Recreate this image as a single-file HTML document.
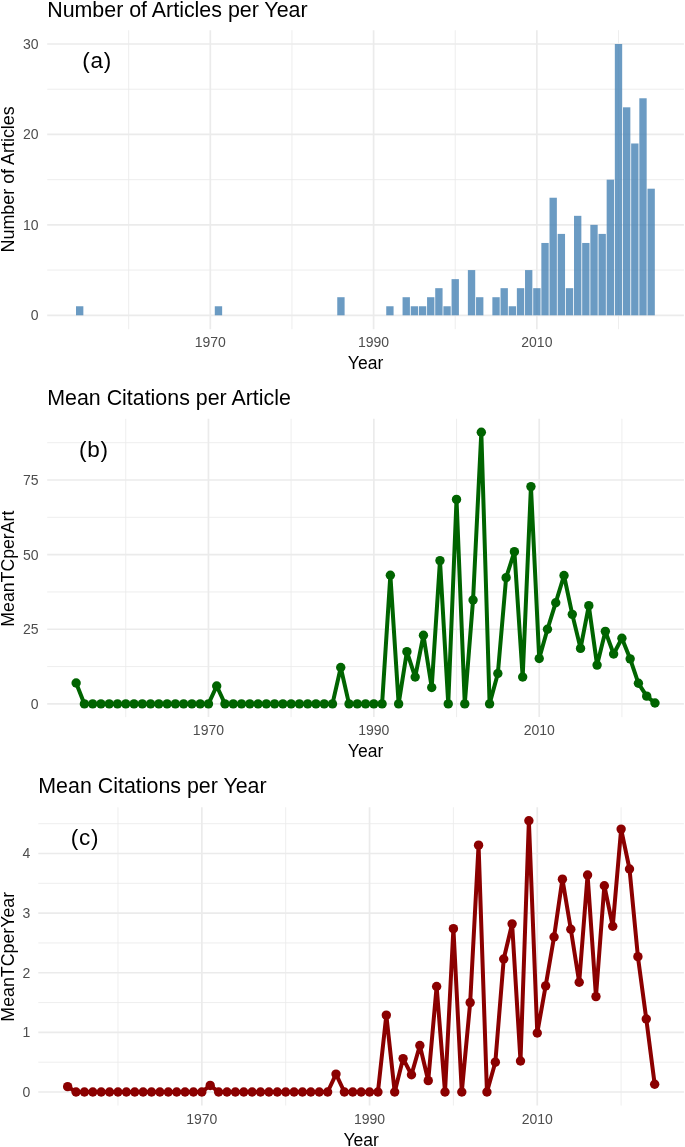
<!DOCTYPE html>
<html><head><meta charset="utf-8"><title>Figure</title>
<style>html,body{margin:0;padding:0;background:#fff}svg{display:block}text{font-family:"Liberation Sans",Arial,Helvetica,sans-serif}</style>
</head><body>
<svg width="685" height="1147" viewBox="0 0 685 1147">
<rect width="685" height="1147" fill="#fff"/>
<line x1="47.2" x2="683.9" y1="270.09" y2="270.09" stroke="#ebebeb" stroke-width="0.85"/>
<line x1="47.2" x2="683.9" y1="179.66" y2="179.66" stroke="#ebebeb" stroke-width="0.85"/>
<line x1="47.2" x2="683.9" y1="89.23" y2="89.23" stroke="#ebebeb" stroke-width="0.85"/>
<line y1="30.2" y2="329.2" x1="128.66" x2="128.66" stroke="#ebebeb" stroke-width="0.85"/>
<line y1="30.2" y2="329.2" x1="291.94" x2="291.94" stroke="#ebebeb" stroke-width="0.85"/>
<line y1="30.2" y2="329.2" x1="455.22" x2="455.22" stroke="#ebebeb" stroke-width="0.85"/>
<line y1="30.2" y2="329.2" x1="618.5" x2="618.5" stroke="#ebebeb" stroke-width="0.85"/>
<line x1="47.2" x2="683.9" y1="315.3" y2="315.3" stroke="#ebebeb" stroke-width="1.7"/>
<line x1="47.2" x2="683.9" y1="224.87" y2="224.87" stroke="#ebebeb" stroke-width="1.7"/>
<line x1="47.2" x2="683.9" y1="134.44" y2="134.44" stroke="#ebebeb" stroke-width="1.7"/>
<line x1="47.2" x2="683.9" y1="44.01" y2="44.01" stroke="#ebebeb" stroke-width="1.7"/>
<line y1="30.2" y2="329.2" x1="210.3" x2="210.3" stroke="#ebebeb" stroke-width="1.7"/>
<line y1="30.2" y2="329.2" x1="373.58" x2="373.58" stroke="#ebebeb" stroke-width="1.7"/>
<line y1="30.2" y2="329.2" x1="536.86" x2="536.86" stroke="#ebebeb" stroke-width="1.7"/>
<rect x="76" y="306.26" width="7.35" height="9.04" fill="#4682b4" fill-opacity="0.8"/>
<rect x="214.79" y="306.26" width="7.35" height="9.04" fill="#4682b4" fill-opacity="0.8"/>
<rect x="337.25" y="297.21" width="7.35" height="18.09" fill="#4682b4" fill-opacity="0.8"/>
<rect x="386.23" y="306.26" width="7.35" height="9.04" fill="#4682b4" fill-opacity="0.8"/>
<rect x="402.56" y="297.21" width="7.35" height="18.09" fill="#4682b4" fill-opacity="0.8"/>
<rect x="410.73" y="306.26" width="7.35" height="9.04" fill="#4682b4" fill-opacity="0.8"/>
<rect x="418.89" y="306.26" width="7.35" height="9.04" fill="#4682b4" fill-opacity="0.8"/>
<rect x="427.05" y="297.21" width="7.35" height="18.09" fill="#4682b4" fill-opacity="0.8"/>
<rect x="435.22" y="288.17" width="7.35" height="27.13" fill="#4682b4" fill-opacity="0.8"/>
<rect x="443.38" y="306.26" width="7.35" height="9.04" fill="#4682b4" fill-opacity="0.8"/>
<rect x="451.55" y="279.13" width="7.35" height="36.17" fill="#4682b4" fill-opacity="0.8"/>
<rect x="467.87" y="270.09" width="7.35" height="45.21" fill="#4682b4" fill-opacity="0.8"/>
<rect x="476.04" y="297.21" width="7.35" height="18.09" fill="#4682b4" fill-opacity="0.8"/>
<rect x="492.37" y="297.21" width="7.35" height="18.09" fill="#4682b4" fill-opacity="0.8"/>
<rect x="500.53" y="288.17" width="7.35" height="27.13" fill="#4682b4" fill-opacity="0.8"/>
<rect x="508.69" y="306.26" width="7.35" height="9.04" fill="#4682b4" fill-opacity="0.8"/>
<rect x="516.86" y="288.17" width="7.35" height="27.13" fill="#4682b4" fill-opacity="0.8"/>
<rect x="525.02" y="270.09" width="7.35" height="45.21" fill="#4682b4" fill-opacity="0.8"/>
<rect x="533.19" y="288.17" width="7.35" height="27.13" fill="#4682b4" fill-opacity="0.8"/>
<rect x="541.35" y="242.96" width="7.35" height="72.34" fill="#4682b4" fill-opacity="0.8"/>
<rect x="549.51" y="197.74" width="7.35" height="117.56" fill="#4682b4" fill-opacity="0.8"/>
<rect x="557.68" y="233.91" width="7.35" height="81.39" fill="#4682b4" fill-opacity="0.8"/>
<rect x="565.84" y="288.17" width="7.35" height="27.13" fill="#4682b4" fill-opacity="0.8"/>
<rect x="574.01" y="215.83" width="7.35" height="99.47" fill="#4682b4" fill-opacity="0.8"/>
<rect x="582.17" y="242.96" width="7.35" height="72.34" fill="#4682b4" fill-opacity="0.8"/>
<rect x="590.33" y="224.87" width="7.35" height="90.43" fill="#4682b4" fill-opacity="0.8"/>
<rect x="598.5" y="233.91" width="7.35" height="81.39" fill="#4682b4" fill-opacity="0.8"/>
<rect x="606.66" y="179.66" width="7.35" height="135.64" fill="#4682b4" fill-opacity="0.8"/>
<rect x="614.83" y="44.01" width="7.35" height="271.29" fill="#4682b4" fill-opacity="0.8"/>
<rect x="622.99" y="107.31" width="7.35" height="207.99" fill="#4682b4" fill-opacity="0.8"/>
<rect x="631.15" y="143.48" width="7.35" height="171.82" fill="#4682b4" fill-opacity="0.8"/>
<rect x="639.32" y="98.27" width="7.35" height="217.03" fill="#4682b4" fill-opacity="0.8"/>
<rect x="647.48" y="188.7" width="7.35" height="126.6" fill="#4682b4" fill-opacity="0.8"/>
<text x="38.6" y="320.15" text-anchor="end" font-size="14" fill="#4d4d4d">0</text>
<text x="38.6" y="229.72" text-anchor="end" font-size="14" fill="#4d4d4d">10</text>
<text x="38.6" y="139.29" text-anchor="end" font-size="14" fill="#4d4d4d">20</text>
<text x="38.6" y="48.86" text-anchor="end" font-size="14" fill="#4d4d4d">30</text>
<text x="210.3" y="346.7" text-anchor="middle" font-size="14" fill="#4d4d4d">1970</text>
<text x="373.58" y="346.7" text-anchor="middle" font-size="14" fill="#4d4d4d">1990</text>
<text x="536.86" y="346.7" text-anchor="middle" font-size="14" fill="#4d4d4d">2010</text>
<text x="365.55" y="368.9" text-anchor="middle" font-size="17.5" fill="#000">Year</text>
<text transform="translate(14 179.35) rotate(-90)" text-anchor="middle" font-size="17.9" fill="#000">Number of Articles</text>
<text x="47.2" y="16.8" font-size="21.4" fill="#000">Number of Articles per Year</text>
<text x="97.1" y="67.9" text-anchor="middle" font-size="22.5" letter-spacing="0.7" fill="#000">(a)</text>
<line x1="47.2" x2="683.9" y1="666.59" y2="666.59" stroke="#ebebeb" stroke-width="0.85"/>
<line x1="47.2" x2="683.9" y1="591.96" y2="591.96" stroke="#ebebeb" stroke-width="0.85"/>
<line x1="47.2" x2="683.9" y1="517.34" y2="517.34" stroke="#ebebeb" stroke-width="0.85"/>
<line x1="47.2" x2="683.9" y1="442.71" y2="442.71" stroke="#ebebeb" stroke-width="0.85"/>
<line y1="418.8" y2="717.1" x1="125.76" x2="125.76" stroke="#ebebeb" stroke-width="0.85"/>
<line y1="418.8" y2="717.1" x1="291.14" x2="291.14" stroke="#ebebeb" stroke-width="0.85"/>
<line y1="418.8" y2="717.1" x1="456.52" x2="456.52" stroke="#ebebeb" stroke-width="0.85"/>
<line y1="418.8" y2="717.1" x1="621.9" x2="621.9" stroke="#ebebeb" stroke-width="0.85"/>
<line x1="47.2" x2="683.9" y1="703.9" y2="703.9" stroke="#ebebeb" stroke-width="1.7"/>
<line x1="47.2" x2="683.9" y1="629.27" y2="629.27" stroke="#ebebeb" stroke-width="1.7"/>
<line x1="47.2" x2="683.9" y1="554.65" y2="554.65" stroke="#ebebeb" stroke-width="1.7"/>
<line x1="47.2" x2="683.9" y1="480.02" y2="480.02" stroke="#ebebeb" stroke-width="1.7"/>
<line y1="418.8" y2="717.1" x1="208.45" x2="208.45" stroke="#ebebeb" stroke-width="1.7"/>
<line y1="418.8" y2="717.1" x1="373.83" x2="373.83" stroke="#ebebeb" stroke-width="1.7"/>
<line y1="418.8" y2="717.1" x1="539.21" x2="539.21" stroke="#ebebeb" stroke-width="1.7"/>
<polyline fill="none" stroke="#006400" stroke-width="4.0" stroke-linejoin="round" stroke-linecap="butt" points="76.14,683 84.41,703.9 92.68,703.9 100.95,703.9 109.22,703.9 117.49,703.9 125.76,703.9 134.02,703.9 142.29,703.9 150.56,703.9 158.83,703.9 167.1,703.9 175.37,703.9 183.64,703.9 191.91,703.9 200.18,703.9 208.45,703.9 216.71,685.99 224.98,703.9 233.25,703.9 241.52,703.9 249.79,703.9 258.06,703.9 266.33,703.9 274.6,703.9 282.87,703.9 291.14,703.9 299.4,703.9 307.67,703.9 315.94,703.9 324.21,703.9 332.48,703.9 340.75,667.48 349.02,703.9 357.29,703.9 365.56,703.9 373.83,703.9 382.09,703.9 390.36,575.25 398.63,703.9 406.9,651.66 415.17,677.03 423.44,635.25 431.71,687.48 439.98,560.62 448.25,703.9 456.52,499.43 464.78,703.9 473.05,600.02 481.32,432.26 489.59,703.9 497.86,673.45 506.13,577.63 514.4,551.66 522.67,677.03 530.94,486.59 539.21,658.53 547.47,629.27 555.74,602.71 564.01,575.54 572.28,614.35 580.55,648.38 588.82,605.69 597.09,665.1 605.36,631.36 613.63,654.05 621.9,638.23 630.16,658.83 638.43,683.3 646.7,696.14 654.97,703"/>
<circle cx="76.14" cy="683" r="4.7" fill="#006400"/>
<circle cx="84.41" cy="703.9" r="4.7" fill="#006400"/>
<circle cx="92.68" cy="703.9" r="4.7" fill="#006400"/>
<circle cx="100.95" cy="703.9" r="4.7" fill="#006400"/>
<circle cx="109.22" cy="703.9" r="4.7" fill="#006400"/>
<circle cx="117.49" cy="703.9" r="4.7" fill="#006400"/>
<circle cx="125.76" cy="703.9" r="4.7" fill="#006400"/>
<circle cx="134.02" cy="703.9" r="4.7" fill="#006400"/>
<circle cx="142.29" cy="703.9" r="4.7" fill="#006400"/>
<circle cx="150.56" cy="703.9" r="4.7" fill="#006400"/>
<circle cx="158.83" cy="703.9" r="4.7" fill="#006400"/>
<circle cx="167.1" cy="703.9" r="4.7" fill="#006400"/>
<circle cx="175.37" cy="703.9" r="4.7" fill="#006400"/>
<circle cx="183.64" cy="703.9" r="4.7" fill="#006400"/>
<circle cx="191.91" cy="703.9" r="4.7" fill="#006400"/>
<circle cx="200.18" cy="703.9" r="4.7" fill="#006400"/>
<circle cx="208.45" cy="703.9" r="4.7" fill="#006400"/>
<circle cx="216.71" cy="685.99" r="4.7" fill="#006400"/>
<circle cx="224.98" cy="703.9" r="4.7" fill="#006400"/>
<circle cx="233.25" cy="703.9" r="4.7" fill="#006400"/>
<circle cx="241.52" cy="703.9" r="4.7" fill="#006400"/>
<circle cx="249.79" cy="703.9" r="4.7" fill="#006400"/>
<circle cx="258.06" cy="703.9" r="4.7" fill="#006400"/>
<circle cx="266.33" cy="703.9" r="4.7" fill="#006400"/>
<circle cx="274.6" cy="703.9" r="4.7" fill="#006400"/>
<circle cx="282.87" cy="703.9" r="4.7" fill="#006400"/>
<circle cx="291.14" cy="703.9" r="4.7" fill="#006400"/>
<circle cx="299.4" cy="703.9" r="4.7" fill="#006400"/>
<circle cx="307.67" cy="703.9" r="4.7" fill="#006400"/>
<circle cx="315.94" cy="703.9" r="4.7" fill="#006400"/>
<circle cx="324.21" cy="703.9" r="4.7" fill="#006400"/>
<circle cx="332.48" cy="703.9" r="4.7" fill="#006400"/>
<circle cx="340.75" cy="667.48" r="4.7" fill="#006400"/>
<circle cx="349.02" cy="703.9" r="4.7" fill="#006400"/>
<circle cx="357.29" cy="703.9" r="4.7" fill="#006400"/>
<circle cx="365.56" cy="703.9" r="4.7" fill="#006400"/>
<circle cx="373.83" cy="703.9" r="4.7" fill="#006400"/>
<circle cx="382.09" cy="703.9" r="4.7" fill="#006400"/>
<circle cx="390.36" cy="575.25" r="4.7" fill="#006400"/>
<circle cx="398.63" cy="703.9" r="4.7" fill="#006400"/>
<circle cx="406.9" cy="651.66" r="4.7" fill="#006400"/>
<circle cx="415.17" cy="677.03" r="4.7" fill="#006400"/>
<circle cx="423.44" cy="635.25" r="4.7" fill="#006400"/>
<circle cx="431.71" cy="687.48" r="4.7" fill="#006400"/>
<circle cx="439.98" cy="560.62" r="4.7" fill="#006400"/>
<circle cx="448.25" cy="703.9" r="4.7" fill="#006400"/>
<circle cx="456.52" cy="499.43" r="4.7" fill="#006400"/>
<circle cx="464.78" cy="703.9" r="4.7" fill="#006400"/>
<circle cx="473.05" cy="600.02" r="4.7" fill="#006400"/>
<circle cx="481.32" cy="432.26" r="4.7" fill="#006400"/>
<circle cx="489.59" cy="703.9" r="4.7" fill="#006400"/>
<circle cx="497.86" cy="673.45" r="4.7" fill="#006400"/>
<circle cx="506.13" cy="577.63" r="4.7" fill="#006400"/>
<circle cx="514.4" cy="551.66" r="4.7" fill="#006400"/>
<circle cx="522.67" cy="677.03" r="4.7" fill="#006400"/>
<circle cx="530.94" cy="486.59" r="4.7" fill="#006400"/>
<circle cx="539.21" cy="658.53" r="4.7" fill="#006400"/>
<circle cx="547.47" cy="629.27" r="4.7" fill="#006400"/>
<circle cx="555.74" cy="602.71" r="4.7" fill="#006400"/>
<circle cx="564.01" cy="575.54" r="4.7" fill="#006400"/>
<circle cx="572.28" cy="614.35" r="4.7" fill="#006400"/>
<circle cx="580.55" cy="648.38" r="4.7" fill="#006400"/>
<circle cx="588.82" cy="605.69" r="4.7" fill="#006400"/>
<circle cx="597.09" cy="665.1" r="4.7" fill="#006400"/>
<circle cx="605.36" cy="631.36" r="4.7" fill="#006400"/>
<circle cx="613.63" cy="654.05" r="4.7" fill="#006400"/>
<circle cx="621.9" cy="638.23" r="4.7" fill="#006400"/>
<circle cx="630.16" cy="658.83" r="4.7" fill="#006400"/>
<circle cx="638.43" cy="683.3" r="4.7" fill="#006400"/>
<circle cx="646.7" cy="696.14" r="4.7" fill="#006400"/>
<circle cx="654.97" cy="703" r="4.7" fill="#006400"/>
<text x="38.6" y="708.75" text-anchor="end" font-size="14" fill="#4d4d4d">0</text>
<text x="38.6" y="634.12" text-anchor="end" font-size="14" fill="#4d4d4d">25</text>
<text x="38.6" y="559.5" text-anchor="end" font-size="14" fill="#4d4d4d">50</text>
<text x="38.6" y="484.88" text-anchor="end" font-size="14" fill="#4d4d4d">75</text>
<text x="208.45" y="734.6" text-anchor="middle" font-size="14" fill="#4d4d4d">1970</text>
<text x="373.83" y="734.6" text-anchor="middle" font-size="14" fill="#4d4d4d">1990</text>
<text x="539.21" y="734.6" text-anchor="middle" font-size="14" fill="#4d4d4d">2010</text>
<text x="365.55" y="756.8" text-anchor="middle" font-size="17.5" fill="#000">Year</text>
<text transform="translate(14 568.65) rotate(-90)" text-anchor="middle" font-size="17.7" fill="#000">MeanTCperArt</text>
<text x="47.2" y="405.3" font-size="21.4" fill="#000">Mean Citations per Article</text>
<text x="93.8" y="457" text-anchor="middle" font-size="22.5" letter-spacing="0.7" fill="#000">(b)</text>
<line x1="38.3" x2="683.9" y1="1062.19" y2="1062.19" stroke="#ebebeb" stroke-width="0.85"/>
<line x1="38.3" x2="683.9" y1="1002.57" y2="1002.57" stroke="#ebebeb" stroke-width="0.85"/>
<line x1="38.3" x2="683.9" y1="942.95" y2="942.95" stroke="#ebebeb" stroke-width="0.85"/>
<line x1="38.3" x2="683.9" y1="883.33" y2="883.33" stroke="#ebebeb" stroke-width="0.85"/>
<line x1="38.3" x2="683.9" y1="823.71" y2="823.71" stroke="#ebebeb" stroke-width="0.85"/>
<line y1="807.3" y2="1105.5" x1="117.97" x2="117.97" stroke="#ebebeb" stroke-width="0.85"/>
<line y1="807.3" y2="1105.5" x1="285.69" x2="285.69" stroke="#ebebeb" stroke-width="0.85"/>
<line y1="807.3" y2="1105.5" x1="453.41" x2="453.41" stroke="#ebebeb" stroke-width="0.85"/>
<line y1="807.3" y2="1105.5" x1="621.13" x2="621.13" stroke="#ebebeb" stroke-width="0.85"/>
<line x1="38.3" x2="683.9" y1="1092" y2="1092" stroke="#ebebeb" stroke-width="1.7"/>
<line x1="38.3" x2="683.9" y1="1032.38" y2="1032.38" stroke="#ebebeb" stroke-width="1.7"/>
<line x1="38.3" x2="683.9" y1="972.76" y2="972.76" stroke="#ebebeb" stroke-width="1.7"/>
<line x1="38.3" x2="683.9" y1="913.14" y2="913.14" stroke="#ebebeb" stroke-width="1.7"/>
<line x1="38.3" x2="683.9" y1="853.52" y2="853.52" stroke="#ebebeb" stroke-width="1.7"/>
<line y1="807.3" y2="1105.5" x1="201.83" x2="201.83" stroke="#ebebeb" stroke-width="1.7"/>
<line y1="807.3" y2="1105.5" x1="369.55" x2="369.55" stroke="#ebebeb" stroke-width="1.7"/>
<line y1="807.3" y2="1105.5" x1="537.27" x2="537.27" stroke="#ebebeb" stroke-width="1.7"/>
<polyline fill="none" stroke="#8b0000" stroke-width="4.0" stroke-linejoin="round" stroke-linecap="butt" points="67.65,1086.63 76.04,1092 84.42,1092 92.81,1092 101.19,1092 109.58,1092 117.97,1092 126.35,1092 134.74,1092 143.12,1092 151.51,1092 159.9,1092 168.28,1092 176.67,1092 185.06,1092 193.44,1092 201.83,1092 210.21,1085.44 218.6,1092 226.98,1092 235.37,1092 243.76,1092 252.14,1092 260.53,1092 268.91,1092 277.3,1092 285.69,1092 294.07,1092 302.46,1092 310.84,1092 319.23,1092 327.62,1092 336,1074.11 344.39,1092 352.77,1092 361.16,1092 369.55,1092 377.93,1092 386.32,1015.09 394.7,1092 403.09,1058.61 411.48,1074.71 419.86,1045.5 428.25,1080.67 436.63,986.47 445.02,1092 453.41,928.64 461.79,1092 470.18,1002.57 478.56,845.17 486.95,1092 495.34,1062.19 503.72,959.05 512.11,923.87 520.49,1061 528.88,820.73 537.27,1032.98 545.65,985.88 554.04,936.99 562.42,879.16 570.81,929.24 579.2,982.3 587.58,874.98 595.97,996.61 604.35,885.71 612.74,926.26 621.13,829.08 629.51,869.02 637.9,956.66 646.28,1018.97 654.67,1084.25"/>
<circle cx="67.65" cy="1086.63" r="4.7" fill="#8b0000"/>
<circle cx="76.04" cy="1092" r="4.7" fill="#8b0000"/>
<circle cx="84.42" cy="1092" r="4.7" fill="#8b0000"/>
<circle cx="92.81" cy="1092" r="4.7" fill="#8b0000"/>
<circle cx="101.19" cy="1092" r="4.7" fill="#8b0000"/>
<circle cx="109.58" cy="1092" r="4.7" fill="#8b0000"/>
<circle cx="117.97" cy="1092" r="4.7" fill="#8b0000"/>
<circle cx="126.35" cy="1092" r="4.7" fill="#8b0000"/>
<circle cx="134.74" cy="1092" r="4.7" fill="#8b0000"/>
<circle cx="143.12" cy="1092" r="4.7" fill="#8b0000"/>
<circle cx="151.51" cy="1092" r="4.7" fill="#8b0000"/>
<circle cx="159.9" cy="1092" r="4.7" fill="#8b0000"/>
<circle cx="168.28" cy="1092" r="4.7" fill="#8b0000"/>
<circle cx="176.67" cy="1092" r="4.7" fill="#8b0000"/>
<circle cx="185.06" cy="1092" r="4.7" fill="#8b0000"/>
<circle cx="193.44" cy="1092" r="4.7" fill="#8b0000"/>
<circle cx="201.83" cy="1092" r="4.7" fill="#8b0000"/>
<circle cx="210.21" cy="1085.44" r="4.7" fill="#8b0000"/>
<circle cx="218.6" cy="1092" r="4.7" fill="#8b0000"/>
<circle cx="226.98" cy="1092" r="4.7" fill="#8b0000"/>
<circle cx="235.37" cy="1092" r="4.7" fill="#8b0000"/>
<circle cx="243.76" cy="1092" r="4.7" fill="#8b0000"/>
<circle cx="252.14" cy="1092" r="4.7" fill="#8b0000"/>
<circle cx="260.53" cy="1092" r="4.7" fill="#8b0000"/>
<circle cx="268.91" cy="1092" r="4.7" fill="#8b0000"/>
<circle cx="277.3" cy="1092" r="4.7" fill="#8b0000"/>
<circle cx="285.69" cy="1092" r="4.7" fill="#8b0000"/>
<circle cx="294.07" cy="1092" r="4.7" fill="#8b0000"/>
<circle cx="302.46" cy="1092" r="4.7" fill="#8b0000"/>
<circle cx="310.84" cy="1092" r="4.7" fill="#8b0000"/>
<circle cx="319.23" cy="1092" r="4.7" fill="#8b0000"/>
<circle cx="327.62" cy="1092" r="4.7" fill="#8b0000"/>
<circle cx="336" cy="1074.11" r="4.7" fill="#8b0000"/>
<circle cx="344.39" cy="1092" r="4.7" fill="#8b0000"/>
<circle cx="352.77" cy="1092" r="4.7" fill="#8b0000"/>
<circle cx="361.16" cy="1092" r="4.7" fill="#8b0000"/>
<circle cx="369.55" cy="1092" r="4.7" fill="#8b0000"/>
<circle cx="377.93" cy="1092" r="4.7" fill="#8b0000"/>
<circle cx="386.32" cy="1015.09" r="4.7" fill="#8b0000"/>
<circle cx="394.7" cy="1092" r="4.7" fill="#8b0000"/>
<circle cx="403.09" cy="1058.61" r="4.7" fill="#8b0000"/>
<circle cx="411.48" cy="1074.71" r="4.7" fill="#8b0000"/>
<circle cx="419.86" cy="1045.5" r="4.7" fill="#8b0000"/>
<circle cx="428.25" cy="1080.67" r="4.7" fill="#8b0000"/>
<circle cx="436.63" cy="986.47" r="4.7" fill="#8b0000"/>
<circle cx="445.02" cy="1092" r="4.7" fill="#8b0000"/>
<circle cx="453.41" cy="928.64" r="4.7" fill="#8b0000"/>
<circle cx="461.79" cy="1092" r="4.7" fill="#8b0000"/>
<circle cx="470.18" cy="1002.57" r="4.7" fill="#8b0000"/>
<circle cx="478.56" cy="845.17" r="4.7" fill="#8b0000"/>
<circle cx="486.95" cy="1092" r="4.7" fill="#8b0000"/>
<circle cx="495.34" cy="1062.19" r="4.7" fill="#8b0000"/>
<circle cx="503.72" cy="959.05" r="4.7" fill="#8b0000"/>
<circle cx="512.11" cy="923.87" r="4.7" fill="#8b0000"/>
<circle cx="520.49" cy="1061" r="4.7" fill="#8b0000"/>
<circle cx="528.88" cy="820.73" r="4.7" fill="#8b0000"/>
<circle cx="537.27" cy="1032.98" r="4.7" fill="#8b0000"/>
<circle cx="545.65" cy="985.88" r="4.7" fill="#8b0000"/>
<circle cx="554.04" cy="936.99" r="4.7" fill="#8b0000"/>
<circle cx="562.42" cy="879.16" r="4.7" fill="#8b0000"/>
<circle cx="570.81" cy="929.24" r="4.7" fill="#8b0000"/>
<circle cx="579.2" cy="982.3" r="4.7" fill="#8b0000"/>
<circle cx="587.58" cy="874.98" r="4.7" fill="#8b0000"/>
<circle cx="595.97" cy="996.61" r="4.7" fill="#8b0000"/>
<circle cx="604.35" cy="885.71" r="4.7" fill="#8b0000"/>
<circle cx="612.74" cy="926.26" r="4.7" fill="#8b0000"/>
<circle cx="621.13" cy="829.08" r="4.7" fill="#8b0000"/>
<circle cx="629.51" cy="869.02" r="4.7" fill="#8b0000"/>
<circle cx="637.9" cy="956.66" r="4.7" fill="#8b0000"/>
<circle cx="646.28" cy="1018.97" r="4.7" fill="#8b0000"/>
<circle cx="654.67" cy="1084.25" r="4.7" fill="#8b0000"/>
<text x="30.3" y="1096.85" text-anchor="end" font-size="14" fill="#4d4d4d">0</text>
<text x="30.3" y="1037.23" text-anchor="end" font-size="14" fill="#4d4d4d">1</text>
<text x="30.3" y="977.61" text-anchor="end" font-size="14" fill="#4d4d4d">2</text>
<text x="30.3" y="917.99" text-anchor="end" font-size="14" fill="#4d4d4d">3</text>
<text x="30.3" y="858.37" text-anchor="end" font-size="14" fill="#4d4d4d">4</text>
<text x="201.83" y="1123.8" text-anchor="middle" font-size="14" fill="#4d4d4d">1970</text>
<text x="369.55" y="1123.8" text-anchor="middle" font-size="14" fill="#4d4d4d">1990</text>
<text x="537.27" y="1123.8" text-anchor="middle" font-size="14" fill="#4d4d4d">2010</text>
<text x="361.1" y="1146" text-anchor="middle" font-size="17.5" fill="#000">Year</text>
<text transform="translate(14 956.75) rotate(-90)" text-anchor="middle" font-size="17.8" fill="#000">MeanTCperYear</text>
<text x="38.3" y="793.4" font-size="21.4" fill="#000">Mean Citations per Year</text>
<text x="85" y="845.2" text-anchor="middle" font-size="22.5" letter-spacing="0.7" fill="#000">(c)</text>
</svg>
</body></html>
